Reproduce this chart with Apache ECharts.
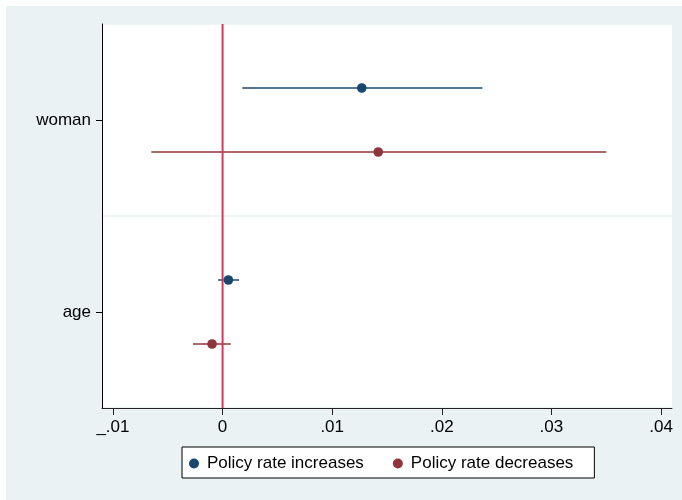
<!DOCTYPE html>
<html>
<head>
<meta charset="utf-8">
<script src="https://cdn.jsdelivr.net/npm/echarts@6/dist/echarts.min.js"></script>
<style>
  html, body { margin: 0; padding: 0; background: #ffffff; }
  #chart { position: absolute; left: 6px; top: 6px; width: 676px; height: 494px; }
</style>
</head>
<body>
<div id="chart"></div>
<script>
// ---- data ----
const categories = ['woman', 'age'];
const seriesNames = ['Policy rate increases', 'Policy rate decreases'];
const incCoef = [0.0127, 0.00053];
const incLo   = [0.0018, -0.0004];
const incHi   = [0.0237, 0.0015];
const decCoef = [0.0142, -0.00096];
const decLo   = [-0.0065, -0.0027];
const decHi   = [0.0350, 0.00075];
const zeroRef = [0];
const xTickValues = [-0.01, 0, 0.01, 0.02, 0.03, 0.04];
const xTickLabels = ['_.01', '0', '.01', '.02', '.03', '.04'];

const BLUE = '#1a476f';
const RED = '#90353b';
const ZERO = '#cf3a5e';
const FONT = 'Liberation Sans, Arial, sans-serif';
const FS = 17;

function buildData(lo, hi, coef) {
  return categories.map((c, i) => [lo[i], hi[i], coef[i], i]);
}

function makeRender(color, dir) {
  return function (params, api) {
    const yIdx = api.value(3);
    const pLo = api.coord([api.value(0), yIdx]);
    const pHi = api.coord([api.value(1), yIdx]);
    const pC = api.coord([api.value(2), yIdx]);
    const band = api.size([0, 1])[1];
    const y = pC[1] + dir * band / 6;
    return {
      type: 'group',
      children: [
        { type: 'line', shape: { x1: pLo[0], y1: y, x2: pHi[0], y2: y },
          style: { stroke: color, lineWidth: 1.5 } },
        { type: 'circle', shape: { cx: pC[0], cy: y, r: 4.8 },
          style: { fill: color } }
      ]
    };
  };
}

function renderZero(params, api) {
  const p = api.coord([api.value(0), 0]);
  const cs = params.coordSys;
  return {
    type: 'line',
    shape: { x1: p[0], y1: cs.y, x2: p[0], y2: cs.y + cs.height },
    style: { stroke: ZERO, lineWidth: 2 }
  };
}

const chart = echarts.init(document.getElementById('chart'));
chart.setOption({
  backgroundColor: '#eaf2f3',
  animation: false,
  textStyle: { fontFamily: FONT },
  grid: {
    left: 96, top: 18, right: 10, bottom: 92,
    show: true, backgroundColor: '#ffffff', borderWidth: 0
  },
  xAxis: {
    type: 'value',
    min: -0.011, max: 0.041,
    axisLine: { show: true, onZero: false, lineStyle: { color: '#222', width: 1 } },
    axisTick: { show: true, length: 7, lineStyle: { color: '#222' }, customValues: xTickValues },
    axisLabel: {
      show: true, margin: 11, fontSize: FS, color: '#000', fontFamily: FONT,
      customValues: xTickValues,
      formatter: function (v) {
        for (let i = 0; i < xTickValues.length; i++) {
          if (Math.abs(xTickValues[i] - v) < 1e-9) return xTickLabels[i];
        }
        return '';
      }
    },
    splitLine: { show: false }
  },
  yAxis: {
    type: 'category',
    data: categories,
    inverse: true,
    axisLine: { show: true, onZero: false, lineStyle: { color: '#000', width: 1 } },
    axisTick: { show: true, alignWithLabel: true, length: 6, lineStyle: { color: '#000' } },
    axisLabel: { margin: 11, fontSize: FS, color: '#000', fontFamily: FONT },
    splitLine: { show: true, lineStyle: { color: '#eaf2f3', width: 1.5 } }
  },
  legend: {
    left: 176, top: 441,
    orient: 'horizontal',
    padding: [8, 21, 6, 7],
    itemWidth: 10, itemHeight: 10, itemGap: 29,
    borderColor: '#000', borderWidth: 1,
    backgroundColor: '#ffffff',
    textStyle: { fontSize: FS, color: '#000', fontFamily: FONT, padding: [0, 0, 0, 3] },
    data: [
      { name: seriesNames[0], icon: 'circle', itemStyle: { color: BLUE } },
      { name: seriesNames[1], icon: 'circle', itemStyle: { color: RED } }
    ]
  },
  series: [
    {
      name: seriesNames[0],
      type: 'custom',
      renderItem: makeRender(BLUE, -1),
      dimensions: ['lo', 'hi', 'coef', 'cat'],
      encode: { x: [0, 1, 2], y: 3 },
      itemStyle: { color: BLUE },
      data: buildData(incLo, incHi, incCoef),
      z: 3
    },
    {
      name: seriesNames[1],
      type: 'custom',
      renderItem: makeRender(RED, 1),
      dimensions: ['lo', 'hi', 'coef', 'cat'],
      encode: { x: [0, 1, 2], y: 3 },
      itemStyle: { color: RED },
      data: buildData(decLo, decHi, decCoef),
      z: 3
    },
    {
      name: 'zero',
      type: 'custom',
      renderItem: renderZero,
      encode: { x: 0, y: 1 },
      data: zeroRef.map(v => [v, 0]),
      silent: true,
      z: 5
    }
  ]
});
</script>
</body>
</html>
